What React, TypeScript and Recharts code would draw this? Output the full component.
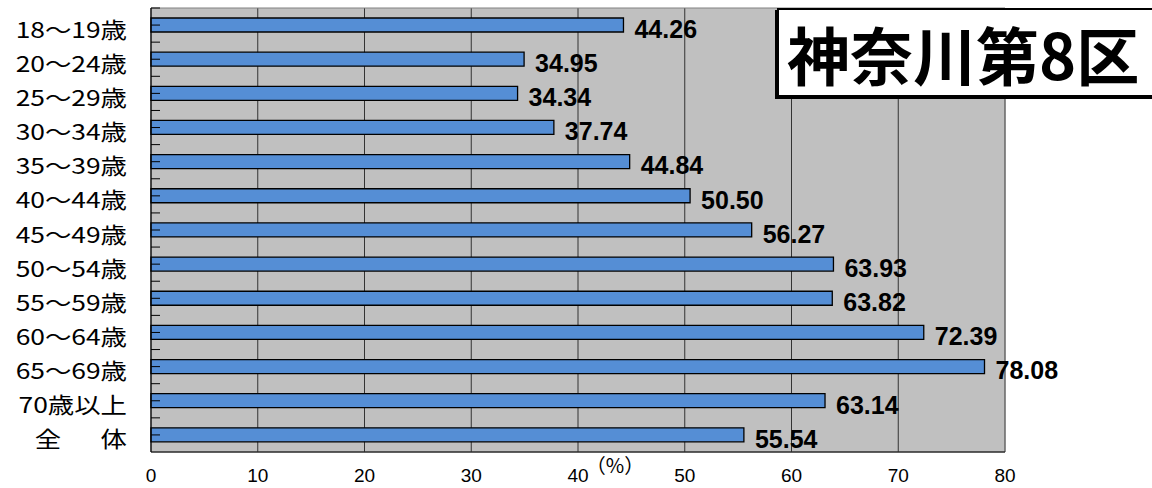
import { BarChart, Bar, XAxis, YAxis, CartesianGrid, LabelList, ReferenceArea } from 'recharts';

const categories = [
  '18～19歳',
  '20～24歳',
  '25～29歳',
  '30～34歳',
  '35～39歳',
  '40～44歳',
  '45～49歳',
  '50～54歳',
  '55～59歳',
  '60～64歳',
  '65～69歳',
  '70歳以上',
  '全　\u2002体',
];

const turnout = [44.26, 34.95, 34.34, 37.74, 44.84, 50.5, 56.27, 63.93, 63.82, 72.39, 78.08, 63.14, 55.54];

const xTicks = [0, 10, 20, 30, 40, 50, 60, 70, 80];

const title = '神奈川第8区';
const unitLabel = '（%）';

const data = categories.map((name, i) => ({ name, value: turnout[i] }));

const CHART_W = 1152;
const CHART_H = 488;
const MARGIN = { top: 8, right: 147, bottom: 0, left: 0 };
const Y_AXIS_W = 151;
const X_AXIS_H = 36;
const TICK_GAP = 24;
const BAND = (CHART_H - MARGIN.top - X_AXIS_H) / categories.length;

const CategoryTick = (props: any) => {
  const { x, y, payload } = props;
  const ax = x + TICK_GAP;
  return (
    <g>
      <line x1={ax} x2={ax + 9} y1={y - BAND / 2} y2={y - BAND / 2} stroke="#000" />
      <line x1={ax} x2={ax + 9} y1={y} y2={y} stroke="#000" />
      <text
        transform={`translate(${x},${y + 12.5}) scale(1.2,1)`}
        textAnchor="end"
        fontSize={22}
        fontFamily="'Noto Sans CJK JP'"
        fill="#000"
        style={{ whiteSpace: 'pre' }}
      >
        {payload.value}
      </text>
    </g>
  );
};

// unit label sits just right of the "40" tick, a little above the tick row
const UnitLabel = (props: any) => {
  const { viewBox } = props;
  return (
    <text
      x={viewBox.x + viewBox.width / 2 + 37}
      y={viewBox.y + 21}
      textAnchor="middle"
      fontSize={20}
      fontFamily="'Noto Sans CJK JP'"
      fill="#000"
    >
      {unitLabel}
    </text>
  );
};

const App = () => {
  return (
    <div style={{ position: 'absolute', left: 0, top: 0, width: CHART_W, height: CHART_H, background: '#fff' }}>
      <BarChart width={CHART_W} height={CHART_H} data={data} layout="vertical" margin={MARGIN}>
        <CartesianGrid horizontal={false} stroke="#333" fill="#C0C0C0" />
        <ReferenceArea x1={0} x2={80} fill="none" stroke="#808080" strokeWidth={1} />
        <XAxis
          type="number"
          domain={[0, 80]}
          ticks={xTicks}
          interval={0}
          height={X_AXIS_H}
          tickLine={false}
          tickSize={0}
          tickMargin={17}
          axisLine={{ stroke: '#000' }}
          tick={{ fill: '#000', fontSize: 19, fontFamily: 'Liberation Sans' }}
          label={UnitLabel}
        />
        <YAxis
          type="category"
          dataKey="name"
          width={Y_AXIS_W}
          tickLine={false}
          tickSize={0}
          tickMargin={TICK_GAP}
          interval={0}
          axisLine={{ stroke: '#000' }}
          tick={<CategoryTick />}
        />
        <Bar dataKey="value" fill="#558ED5" stroke="#000" strokeWidth={1.3} barSize={14} isAnimationActive={false}>
          <LabelList
            dataKey="value"
            position="right"
            offset={11}
            dy={4}
            formatter={(v: any) => Number(v).toFixed(2)}
            fill="#000"
            fontSize={25}
            fontWeight="bold"
            fontFamily="Liberation Sans"
          />
        </Bar>
      </BarChart>
      <div
        style={{
          position: 'absolute',
          left: 777,
          top: 8,
          width: 390,
          height: 89,
          border: '2px solid #000',
          boxShadow: '-2px 2px 0 #000',
          background: '#fff',
          display: 'flex',
          alignItems: 'center',
          paddingLeft: 8,
          boxSizing: 'border-box',
          fontFamily: "'Noto Sans CJK JP'",
          fontWeight: 700,
          fontSize: 63,
          lineHeight: 1,
          color: '#000',
        }}
      >
        {title}
      </div>
    </div>
  );
};

export default App;
